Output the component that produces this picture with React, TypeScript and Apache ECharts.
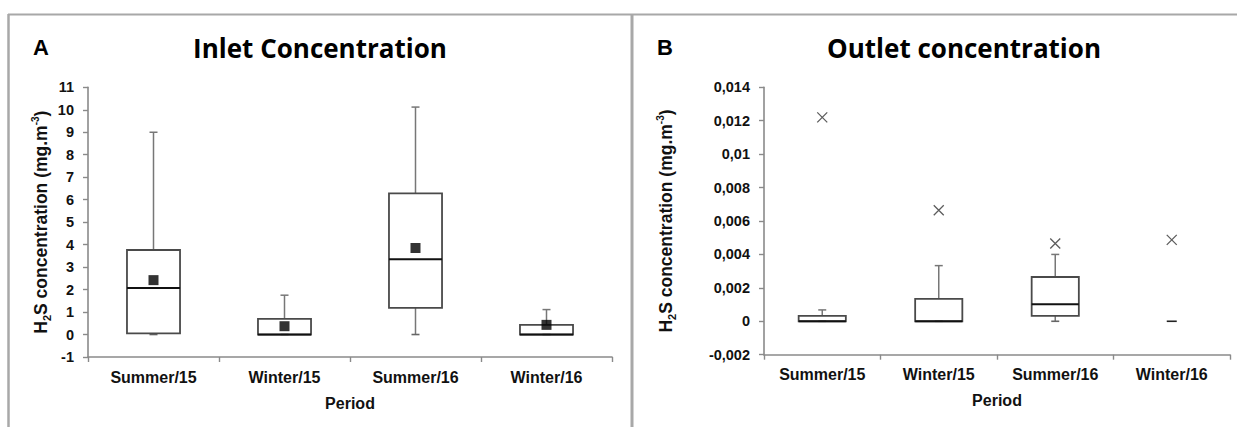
import React, { useEffect, useRef } from 'react';
import * as echarts from 'echarts';

// ---------- data ----------
const periods = ['Summer/15', 'Winter/15', 'Summer/16', 'Winter/16'];
// [min, Q1, median, Q3, max]
const inletMin = [0, 0, 0, 0];
const inletQ1 = [0.05, 0, 1.19, 0];
const inletMedian = [2.07, 0, 3.35, 0];
const inletQ3 = [3.76, 0.7, 6.28, 0.43];
const inletMax = [9.0, 1.75, 10.12, 1.11];
const inletMean = [2.42, 0.37, 3.85, 0.43];

const outletMin = [0, 0, 0, 0];
const outletQ1 = [0, 0, 0.00032, 0];
const outletMedian = [0, 0, 0.00102, 0];
const outletQ3 = [0.00032, 0.00134, 0.00265, 0];
const outletMax = [0.00068, 0.00333, 0.004, 0];
const outletOutlier = [0.0122, 0.00664, 0.00465, 0.00487];

const inletAxis = { min: -1, max: 11, interval: 1 };
const outletAxis = { min: -0.002, max: 0.014, interval: 0.002 };

// ---------- helpers ----------
const FONT = "'Liberation Sans', Arial, sans-serif";
const TITLE_FONT = "'Open Sans', Lato, sans-serif";
const TEXT = '#111';
const AXIS = '#8a8a8a';

const boxRenderer = (boxFrac: number) => (params: any, api: any) => {
  const i = api.value(0);
  const lo = api.value(1);
  const q1 = api.value(2);
  const med = api.value(3);
  const q3 = api.value(4);
  const hi = api.value(5);
  const band = api.size([1, 0])[0];
  const half = (band * boxFrac) / 2;
  const cx = api.coord([i, 0])[0];
  const y = (v: number) => api.coord([i, v])[1];
  const capHalf = 4;
  const wStyle = { stroke: '#777', lineWidth: 1.5 };
  const children: any[] = [];
  if (lo === hi && q1 === q3) {
    children.push({
      type: 'line',
      shape: { x1: cx - 5, y1: y(lo), x2: cx + 5, y2: y(lo) },
      style: { stroke: '#222', lineWidth: 1.6 },
    });
    return { type: 'group', children };
  }
  if (hi > q3) {
    children.push({ type: 'line', shape: { x1: cx, y1: y(q3), x2: cx, y2: y(hi) }, style: wStyle });
  }
  if (q1 > lo) {
    children.push({ type: 'line', shape: { x1: cx, y1: y(q1), x2: cx, y2: y(lo) }, style: wStyle });
  }
  children.push({ type: 'line', shape: { x1: cx - capHalf, y1: y(hi), x2: cx + capHalf, y2: y(hi) }, style: wStyle });
  children.push({ type: 'line', shape: { x1: cx - capHalf, y1: y(lo), x2: cx + capHalf, y2: y(lo) }, style: { stroke: '#666', lineWidth: 1.6 } });
  children.push({
    type: 'rect',
    shape: { x: cx - half, y: y(q3), width: half * 2, height: y(q1) - y(q3) },
    style: { fill: 'none', stroke: '#4a4a4a', lineWidth: 1.8 },
  });
  children.push({
    type: 'line',
    shape: { x1: cx - half, y1: y(med), x2: cx + half, y2: y(med) },
    style: { stroke: '#111', lineWidth: 2 },
  });
  return { type: 'group', children };
};

const yName = {
  b: { fontSize: 17.5, fontWeight: 'bold', fontFamily: FONT, color: TEXT, lineHeight: 22, verticalAlign: 'middle' },
  sub: { fontSize: 11, fontWeight: 'bold', fontFamily: FONT, color: TEXT, lineHeight: 22, verticalAlign: 'bottom' },
  sup: { fontSize: 10, fontWeight: 'bold', fontFamily: FONT, color: TEXT, lineHeight: 22, verticalAlign: 'top' },
};
const yNameText = '{b|H}{sub|2}{b|S concentration (mg.m}{sup|-3}{b|)}';

const catAxis = (gridIndex: number) => ({
  type: 'category',
  gridIndex,
  data: periods,
  boundaryGap: true,
  axisLine: { onZero: false, lineStyle: { color: AXIS, width: 1.6 } },
  axisTick: { show: true, alignWithLabel: false, length: 5, lineStyle: { color: AXIS, width: 1.4 } },
  axisLabel: { margin: 12, fontSize: 16, fontWeight: 'bold', fontFamily: FONT, color: TEXT },
  name: 'Period',
  nameLocation: 'middle',
  nameGap: 38,
  nameTextStyle: { fontSize: 16, fontWeight: 'bold', fontFamily: FONT, color: TEXT },
  splitLine: { show: false },
});

const fmtComma = (v: number) => String(Math.round(v * 1e6) / 1e6).replace('.', ',');

export default function App() {
  const ref = useRef<HTMLDivElement>(null);
  useEffect(() => {
    if (!ref.current) return;
    const chart = echarts.init(ref.current, undefined, { renderer: 'svg' });
    const inletRows = periods.map((_, i) => [i, inletMin[i], inletQ1[i], inletMedian[i], inletQ3[i], inletMax[i]]);
    const outletRows = periods.map((_, i) => [i, outletMin[i], outletQ1[i], outletMedian[i], outletQ3[i], outletMax[i]]);
    const option: any = {
      animation: false,
      backgroundColor: '#fff',
      grid: [
        { left: 88, top: 87.3, width: 524, height: 269.7, containLabel: false },
        { left: 764, top: 87.3, width: 466, height: 267.4, containLabel: false },
      ],
      xAxis: [catAxis(0), catAxis(1)],
      yAxis: [
        {
          type: 'value',
          gridIndex: 0,
          min: inletAxis.min,
          max: inletAxis.max,
          interval: inletAxis.interval,
          axisLine: { show: true, lineStyle: { color: AXIS, width: 1.6 } },
          axisTick: { show: true, length: 5, lineStyle: { color: AXIS, width: 1.4 } },
          axisLabel: { margin: 14, fontSize: 14.5, fontWeight: 'bold', fontFamily: FONT, color: TEXT },
          splitLine: { show: false },
          name: yNameText,
          nameLocation: 'middle',
          nameRotate: 90,
          nameGap: 36,
          nameTextStyle: { rich: yName },
        },
        {
          type: 'value',
          gridIndex: 1,
          min: outletAxis.min,
          max: outletAxis.max,
          interval: outletAxis.interval,
          axisLine: { show: true, lineStyle: { color: AXIS, width: 1.6 } },
          axisTick: { show: true, length: 5, lineStyle: { color: AXIS, width: 1.4 } },
          axisLabel: { margin: 14, fontSize: 14.5, fontWeight: 'bold', fontFamily: FONT, color: TEXT, formatter: fmtComma },
          splitLine: { show: false },
          name: yNameText,
          nameLocation: 'middle',
          nameRotate: 90,
          nameGap: 87,
          nameTextStyle: { rich: yName },
        },
      ],
      series: [
        {
          type: 'custom',
          name: 'Inlet',
          xAxisIndex: 0,
          yAxisIndex: 0,
          renderItem: boxRenderer(0.405),
          encode: { x: 0, y: [1, 2, 3, 4, 5] },
          data: inletRows,
          z: 2,
        },
        {
          type: 'scatter',
          name: 'Inlet mean',
          xAxisIndex: 0,
          yAxisIndex: 0,
          symbol: 'rect',
          symbolSize: 10,
          itemStyle: { color: '#000' },
          data: inletMean.map((v, i) => [i, v]),
          z: 3,
        },
        {
          type: 'custom',
          name: 'Outlet',
          xAxisIndex: 1,
          yAxisIndex: 1,
          renderItem: boxRenderer(0.405),
          encode: { x: 0, y: [1, 2, 3, 4, 5] },
          data: outletRows,
          z: 2,
        },
        {
          type: 'scatter',
          name: 'Outlet outliers',
          xAxisIndex: 1,
          yAxisIndex: 1,
          symbol: 'path://M0,0L10,10M10,0L0,10',
          symbolSize: 10,
          itemStyle: { color: 'none', borderColor: '#333', borderWidth: 1.3 },
          data: outletOutlier.map((v, i) => [i, v]),
          z: 3,
        },
      ],
      graphic: [
        { type: 'line', shape: { x1: 8, y1: 14.5, x2: 1237, y2: 14.5 }, style: { stroke: '#a8a8a8', lineWidth: 2 }, silent: true },
        { type: 'line', shape: { x1: 8.5, y1: 14, x2: 8.5, y2: 427 }, style: { stroke: '#a8a8a8', lineWidth: 2.5 }, silent: true },
        { type: 'line', shape: { x1: 632, y1: 14, x2: 632, y2: 427 }, style: { stroke: '#a8a8a8', lineWidth: 3 }, silent: true },
        { type: 'text', x: 33, y: 47, style: { text: 'A', font: `bold 22px ${FONT}`, fill: '#000', verticalAlign: 'middle' } },
        { type: 'text', x: 657, y: 47, style: { text: 'B', font: `bold 22px ${FONT}`, fill: '#000', verticalAlign: 'middle' } },
        { type: 'text', x: 320, y: 48, style: { text: 'Inlet Concentration', font: `bold 26px ${TITLE_FONT}`, fill: '#000', align: 'center', verticalAlign: 'middle' } },
        { type: 'text', x: 964, y: 48, style: { text: 'Outlet concentration', font: `bold 26px ${TITLE_FONT}`, fill: '#000', align: 'center', verticalAlign: 'middle' } },
      ],
    };
    chart.setOption(option);
    return () => chart.dispose();
  }, []);
  return <div ref={ref} style={{ position: 'fixed', left: 0, top: 0, width: 1237, height: 427, background: '#fff' }} />;
}
